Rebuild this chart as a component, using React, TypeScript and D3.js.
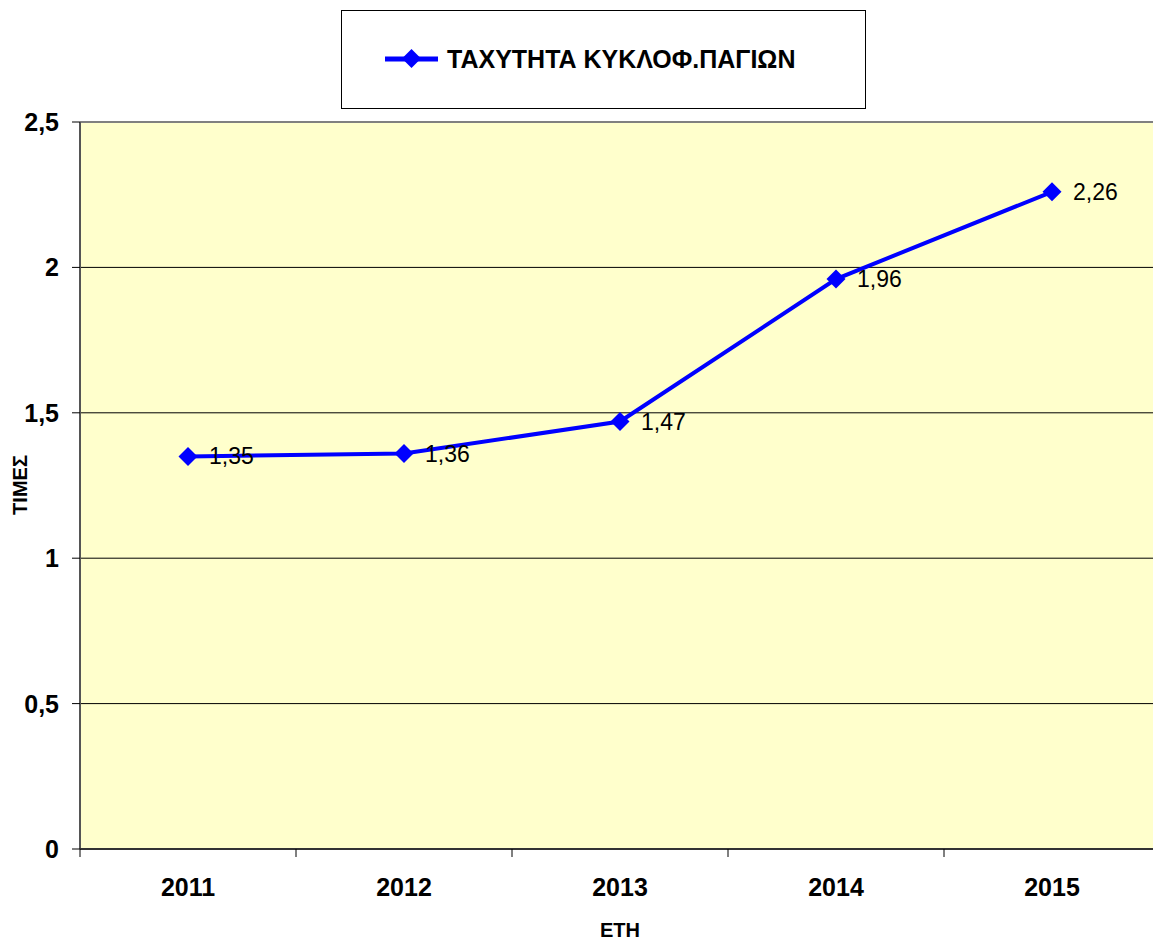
import React from "react";
import * as d3 from "d3";

const categories = ["2011", "2012", "2013", "2014", "2015"];
const values = [1.35, 1.36, 1.47, 1.96, 2.26];
const valueLabels = ["1,35", "1,36", "1,47", "1,96", "2,26"];
const yTicks = [0, 0.5, 1, 1.5, 2, 2.5];
const yTickLabels = ["0", "0,5", "1", "1,5", "2", "2,5"];
const seriesName = "ΤΑΧΥΤΗΤΑ ΚΥΚΛΟΦ.ΠΑΓΙΩΝ";
const xTitle = "ΕΤΗ";
const yTitle = "ΤΙΜΕΣ";

export default function App() {
  const W = 1153, H = 942;
  const left = 80, right = 1160, top = 122, bottom = 849;
  const x = d3.scaleBand<string>().domain(categories).range([left, right]);
  const y = d3.scaleLinear().domain([0, 2.5]).range([bottom, top]);
  const font = "Arial, 'Liberation Sans', sans-serif";
  const line = d3
    .line<number>()
    .x((_, i) => (x(categories[i]) as number) + x.bandwidth() / 2)
    .y((d) => y(d));
  const diamond = (cx: number, cy: number, r: number) =>
    `M${cx},${cy - r}L${cx + r},${cy}L${cx},${cy + r}L${cx - r},${cy}Z`;
  const bandEdges = categories.map((c) => x(c) as number).concat([right]);

  return (
    <svg
      width={W}
      height={H}
      style={{ position: "absolute", left: 0, top: 0, fontFamily: font }}
    >
      <rect x={0} y={0} width={W} height={H} fill="#fff" />
      <rect x={left} y={top} width={right - left} height={bottom - top} fill="#FFFFCC" />
      {yTicks.slice(1, -1).map((t) => (
        <line key={t} x1={left} x2={right} y1={y(t)} y2={y(t)} stroke="#000" strokeWidth={1} />
      ))}
      <line x1={left} x2={right} y1={top} y2={top} stroke="#808080" strokeWidth={2} />
      <line x1={left} x2={left} y1={top} y2={bottom} stroke="#555" strokeWidth={2} />
      <line x1={left} x2={right} y1={bottom} y2={bottom} stroke="#333" strokeWidth={2} />
      {yTicks.map((t, i) => (
        <g key={t}>
          <line x1={left - 8} x2={left} y1={y(t)} y2={y(t)} stroke="#000" />
          <text
            x={59}
            y={y(t)}
            dy="0.36em"
            textAnchor="end"
            fontSize={25}
            fontWeight="bold"
          >
            {yTickLabels[i]}
          </text>
        </g>
      ))}
      {bandEdges.map((e, i) => (
        <line key={i} x1={e} x2={e} y1={bottom} y2={bottom + 8} stroke="#000" />
      ))}
      {categories.map((c) => (
        <text
          key={c}
          x={(x(c) as number) + x.bandwidth() / 2}
          y={896}
          textAnchor="middle"
          fontSize={25}
          fontWeight="bold"
        >
          {c}
        </text>
      ))}
      <text x={620} y={937} textAnchor="middle" fontSize={20} fontWeight="bold">
        {xTitle}
      </text>
      <text
        transform={`translate(27,485) rotate(-90)`}
        textAnchor="middle"
        fontSize={20}
        fontWeight="bold"
      >
        {yTitle}
      </text>
      <path d={line(values) || ""} fill="none" stroke="#0000FF" strokeWidth={4} />
      {values.map((v, i) => {
        const cx = (x(categories[i]) as number) + x.bandwidth() / 2;
        return (
          <g key={i}>
            <path d={diamond(cx, y(v), 9.5)} fill="#0000FF" />
            <text x={cx + 21} y={y(v) + 8} fontSize={23}>
              {valueLabels[i]}
            </text>
          </g>
        );
      })}
      <rect x={341.5} y={10.5} width={524} height={98} fill="#fff" stroke="#000" strokeWidth={1} />
      <line x1={385} x2={438} y1={59} y2={59} stroke="#0000FF" strokeWidth={5} />
      <path d={diamond(411.5, 58.5, 9.5)} fill="#0000FF" />
      <text x={447} y={68} fontSize={25} fontWeight="bold">
        {seriesName}
      </text>
    </svg>
  );
}
